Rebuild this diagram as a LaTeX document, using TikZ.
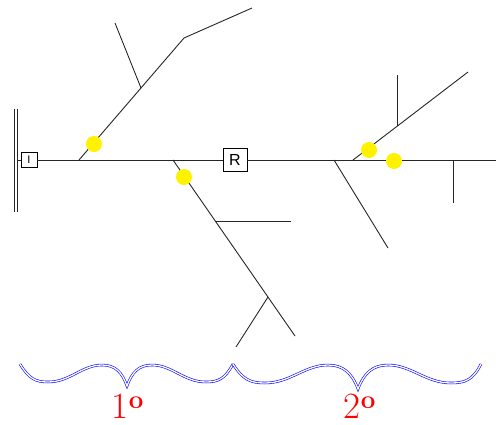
\documentclass[tikz,border=0pt]{standalone}
\usepackage{fontspec}
\newfontfamily\boxfont{Liberation Sans}
\begin{document}
\begin{tikzpicture}[x=1pt,y=-1pt]
\tikzset{
  ln/.style={line width=0.9pt, black!85},
  boxnode/.style={draw, line width=0.8pt, inner sep=0pt, fill=white, font=\boxfont},
  dot/.style={circle, fill=yellow, minimum size=16pt, inner sep=0pt},
  bracepath/.style={draw=blue, double=white, double distance=1.3pt, line width=0.6pt},
  lbl/.style={text=red, anchor=base, inner sep=0pt, font=\fontsize{37}{40}\selectfont}
}
\useasboundingbox (0,0) rectangle (496,424);
% wall
\coordinate (w1t) at (14,109); \coordinate (w1b) at (14,212);
\coordinate (w2t) at (17,109); \coordinate (w2b) at (17,212);
\draw[ln] (w1t) -- (w1b);
\draw[ln] (w2t) -- (w2b);
% main line
\coordinate (wallmid) at (17,160);
\coordinate (east) at (496,160);
\node[boxnode, minimum width=16pt, minimum height=15pt] (I) at (29,160) {\fontsize{11}{11}\selectfont I};
\node[boxnode, minimum width=24pt, minimum height=23pt] (R) at (235,160) {\fontsize{16}{16}\selectfont R};
\draw[ln] (wallmid) -- (I.west);
\draw[ln] (I.east) -- (R.west);
\draw[ln] (R.east) -- (east);
% branch 1
\coordinate (b1s) at (79,160); \coordinate (b1k) at (184,38); \coordinate (b1e) at (252,8);
\coordinate (b1m) at (141,88); \coordinate (b1t) at (115,23);
\draw[ln] (b1s) -- (b1k) -- (b1e);
\draw[ln] (b1m) -- (b1t);
% branch 2
\coordinate (b2s) at (173,160); \coordinate (b2e) at (295,336);
\coordinate (b2a) at (215,221); \coordinate (b2ae) at (291,221);
\coordinate (b2b) at (268,297); \coordinate (b2be) at (236,347);
\draw[ln] (b2s) -- (b2e);
\draw[ln] (b2a) -- (b2ae);
\draw[ln] (b2b) -- (b2be);
% branch 3
\coordinate (b3s) at (353,160); \coordinate (b3e) at (468,72);
\coordinate (b3m) at (397,126); \coordinate (b3t) at (397,75);
\draw[ln] (b3s) -- (b3e);
\draw[ln] (b3m) -- (b3t);
% branch 4
\coordinate (b4s) at (334,160); \coordinate (b4e) at (388,248);
\draw[ln] (b4s) -- (b4e);
% branch 5
\coordinate (b5s) at (453,160); \coordinate (b5e) at (453,203);
\draw[ln] (b5s) -- (b5e);
% dots
\node[dot] (d1) at (94,144) {};
\node[dot] (d2) at (184,177) {};
\node[dot] (d3) at (369,150) {};
\node[dot] (d4) at (394,161) {};
% braces
\draw[bracepath] (20,364) .. controls (29,379) and (36,382) .. (48,382)
  .. controls (70,382) and (82,365) .. (102,365)
  .. controls (115,365) and (122,372) .. (127,386)
  .. controls (132,372) and (139,365) .. (152,365)
  .. controls (172,365) and (184,382) .. (206,382)
  .. controls (218,382) and (225,379) .. (233,364);
\draw[bracepath] (233,364) .. controls (243,380) and (251,383) .. (265,383)
  .. controls (290,383) and (305,365) .. (328,365)
  .. controls (343,365) and (352,373) .. (358,389)
  .. controls (364,373) and (373,365) .. (388,365)
  .. controls (411,365) and (426,383) .. (451,383)
  .. controls (465,383) and (473,380) .. (481,364);
% labels
\node[lbl] (l1) at (128,418) {1\textsuperscript{\bfseries o}};
\node[lbl] (l2) at (360,418) {2\textsuperscript{\bfseries o}};
\end{tikzpicture}
\end{document}
